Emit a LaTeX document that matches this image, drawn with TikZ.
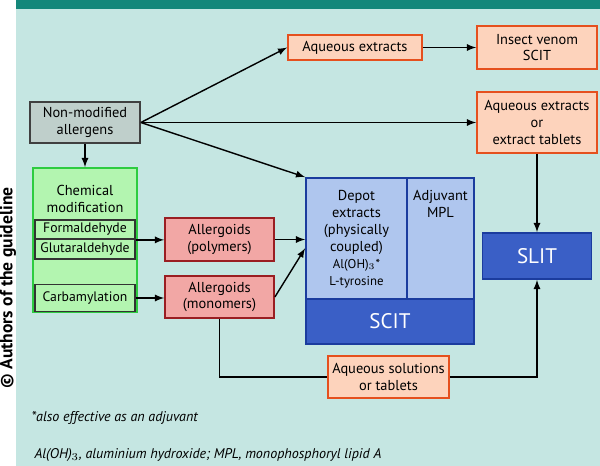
\documentclass[tikz,border=0pt]{standalone}
\usepackage{fontspec}
\setmainfont{PT Sans}
\usepackage{tikz}
\usetikzlibrary{arrows,calc}
\definecolor{bgcol}{HTML}{C5E6E2}
\definecolor{barcol}{HTML}{14877A}
\definecolor{graycol}{HTML}{BFCFCB}
\definecolor{greencol}{HTML}{B3F5B0}
\definecolor{greenline}{HTML}{2ECC40}
\definecolor{orangecol}{HTML}{FDD3BC}
\definecolor{orangeline}{HTML}{E5501E}
\definecolor{pinkcol}{HTML}{F2A7A5}
\definecolor{pinkline}{HTML}{9A1E22}
\definecolor{lbluecol}{HTML}{AFC6EE}
\definecolor{dbluecol}{HTML}{3A5FC6}
\definecolor{blueline}{HTML}{1B3C9E}
\tikzset{
	box/.style={draw, line width=1pt, align=center, inner sep=0pt, font=\fontsize{8.2}{9.6}\selectfont},
	grey/.style={box, fill=graycol, draw=black!75},
	orange/.style={box, fill=orangecol, draw=orangeline},
	pink/.style={box, fill=pinkcol, draw=pinkline},
	green/.style={box, fill=greencol, draw=black!80, font=\fontsize{7.8}{9}\selectfont},
	lblue/.style={box, fill=lbluecol, draw=blueline},
	dblue/.style={box, fill=dbluecol, draw=blueline, text=white, font=\fontsize{12}{14}\selectfont},
	label/.style={font=\fontsize{8.2}{9.6}\selectfont, align=center, anchor=north},
}
\begin{document}
\begin{tikzpicture}[>=latex, x=0.02cm, y=-0.02cm, line width=0.8pt]
			\useasboundingbox (0,0) rectangle (600,466);
			\fill[bgcol] (16,0) rectangle (600,466);
			\fill[barcol] (16,0) rectangle (600,9);
			
			\node[grey, minimum width=110*0.02cm, minimum height=41*0.02cm] (nonmod) at (85,122.5) {Non-modified\\allergens};
			
			\node[box, fill=greencol, draw=greenline, minimum width=104*0.02cm, minimum height=144*0.02cm] (chem) at (85,240) {};
			\node[label] (chemtxt) at (85,179) {Chemical\\modification};
			\node[green, minimum width=100*0.02cm, minimum height=19*0.02cm] (formal) at (85,229.5) {Formaldehyde};
			\node[green, minimum width=100*0.02cm, minimum height=20*0.02cm] (glutar) at (85,249) {Glutaraldehyde};
			\node[green, minimum width=100*0.02cm, minimum height=27*0.02cm] (carbam) at (85,298) {Carbamylation};
			
			\node[orange, minimum width=134*0.02cm, minimum height=25*0.02cm] (aqext) at (355,47.5) {Aqueous extracts};
			\node[orange, minimum width=120*0.02cm, minimum height=43*0.02cm] (venom) at (537,47.5) {Insect venom\\SCIT};
			\node[orange, minimum width=120*0.02cm, minimum height=61*0.02cm] (aqtab) at (537,122.5) {Aqueous extracts\\or\\extract tablets};
			
			\node[pink, minimum width=109*0.02cm, minimum height=43*0.02cm] (poly) at (219.5,239.5) {Allergoids\\(polymers)};
			\node[pink, minimum width=109*0.02cm, minimum height=42*0.02cm] (mono) at (219.5,297) {Allergoids\\(monomers)};
			
			\node[lblue, minimum width=101*0.02cm, minimum height=121*0.02cm] (depot) at (356.5,238.5) {};
			\node[label] (depottxt) at (356.5,184) {Depot\\extracts\\(physically\\coupled)\\{\fontsize{7.3}{9}\selectfont Al(OH)$_3$*}\\{\fontsize{7.3}{9}\selectfont L-tyrosine}};
			\node[lblue, minimum width=67*0.02cm, minimum height=121*0.02cm] (mpl) at (440.5,238.5) {};
			\node[label] (mpltxt) at (440.5,184) {Adjuvant\\MPL};
			\node[dblue, minimum width=168*0.02cm, minimum height=45*0.02cm] (scit) at (390,321.5) {SCIT};
			\node[dblue, minimum width=109*0.02cm, minimum height=46*0.02cm] (slit) at (537,256) {SLIT};
			
			\node[orange, minimum width=121*0.02cm, minimum height=42*0.02cm] (aqsol) at (388.5,377) {Aqueous solutions\\or tablets};
			
			\draw[->] (nonmod.east) -- (aqext.west);
			\draw[->] (nonmod.east) -- (aqtab.west |- nonmod.east);
			\draw[->] (nonmod.east) -- (depot.north west);
			\draw[->] (nonmod.south) -- (chem.north);
			\draw[->] (aqext) -- (venom);
			\draw[->] (aqtab) -- (slit);
			\draw[->] (formal.south east) -- (poly.west |- formal.south east);
			\draw[->] (poly.east) -- (depot.west |- poly.east);
			\draw[->] (carbam.east) -- (mono.west |- carbam.east);
			\draw[->] (mono.east) -- ($(depot.north west)!0.58!(depot.south west)$);
			\draw (mono.south) |- (aqsol.west);
			\draw[->] (aqsol.east) -| (slit.south);
			
			\node[rotate=90, font=\fontsize{10}{12}\bfseries] (copy) at (8,288) {© Authors of the guideline};
			\node[anchor=west, font=\fontsize{8}{9}\itshape] (note) at (25,418) {*also effective as an adjuvant};
			\node[anchor=west, font=\fontsize{8}{9}\itshape] (abbr) at (28,455) {Al(OH)$_3$, aluminium hydroxide; MPL, monophosphoryl lipid A};
		\end{tikzpicture}
\end{document}
